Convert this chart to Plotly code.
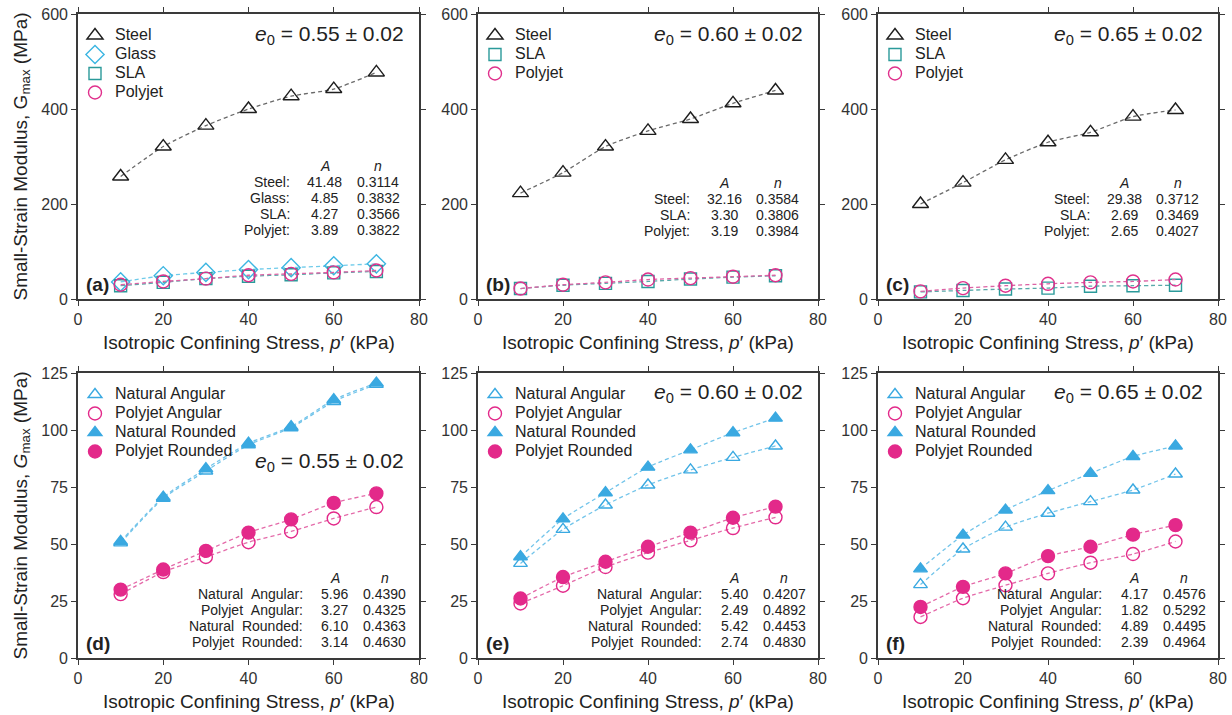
import plotly.graph_objects as go

# ---------------- data ----------------
p_kpa = [10, 20, 30, 40, 50, 60, 70]

a_steel = [258, 321, 365, 400, 427, 442, 477]
a_glass = [36, 49, 56, 62, 66, 70, 74]
a_sla = [28, 35, 43, 48, 51, 55, 58]
a_polyjet = [30, 37, 43, 50, 53, 56, 60]

b_steel = [223, 266, 321, 354, 379, 412, 439]
b_sla = [22, 29, 33, 37, 42, 46, 49]
b_polyjet = [22, 30, 35, 41, 44, 47, 50]

c_steel = [200, 245, 293, 330, 351, 384, 398]
c_sla = [15, 18, 21, 23, 27, 28, 29]
c_polyjet = [16, 23, 28, 32, 35, 37, 41]

d_nat_ang = [50.5, 70, 82, 93.5, 101, 112.5, 120]
d_poly_ang = [28, 37.7, 44.3, 50.8, 55.5, 61.2, 66.2]
d_nat_rnd = [51.1, 70.5, 83, 94.2, 101.5, 113.3, 120.6]
d_poly_rnd = [30, 38.8, 47, 55, 60.8, 68, 72.2]

e_nat_ang = [41.5, 56.4, 67.1, 75.9, 82.5, 88, 93]
e_poly_ang = [23.9, 31.7, 39.9, 46.2, 51.6, 57, 61.7]
e_nat_rnd = [44.4, 61, 72.5, 83.7, 91.3, 98.8, 105.2]
e_poly_rnd = [26.1, 35.5, 42.2, 48.8, 55, 61.5, 66.4]

f_nat_ang = [32.2, 47.8, 57.4, 63.5, 68.6, 73.7, 80.7]
f_poly_ang = [18, 26.2, 31.9, 37.1, 41.8, 45.6, 51.1]
f_nat_rnd = [39.1, 53.9, 64.9, 73.4, 81, 88.4, 93]
f_poly_rnd = [22.4, 31.2, 37.1, 44.7, 48.8, 54.1, 58.3]

# fit-parameter tables (label, A, n)
table_a = [("Steel:", "41.48", "0.3114"), ("Glass:", "4.85", "0.3832"),
           ("SLA:", "4.27", "0.3566"), ("Polyjet:", "3.89", "0.3822")]
table_b = [("Steel:", "32.16", "0.3584"), ("SLA:", "3.30", "0.3806"),
           ("Polyjet:", "3.19", "0.3984")]
table_c = [("Steel:", "29.38", "0.3712"), ("SLA:", "2.69", "0.3469"),
           ("Polyjet:", "2.65", "0.4027")]
table_d = [("Natural  Angular:", "5.96", "0.4390"), ("Polyjet  Angular:", "3.27", "0.4325"),
           ("Natural  Rounded:", "6.10", "0.4363"), ("Polyjet  Rounded:", "3.14", "0.4630")]
table_e = [("Natural  Angular:", "5.40", "0.4207"), ("Polyjet  Angular:", "2.49", "0.4892"),
           ("Natural  Rounded:", "5.42", "0.4453"), ("Polyjet  Rounded:", "2.74", "0.4830")]
table_f = [("Natural  Angular:", "4.17", "0.4576"), ("Polyjet  Angular:", "1.82", "0.5292"),
           ("Natural  Rounded:", "4.89", "0.4495"), ("Polyjet  Rounded:", "2.39", "0.4964")]

void_ratios = ["0.55", "0.60", "0.65", "0.55", "0.60", "0.65"]
panel_letters = ["(a)", "(b)", "(c)", "(d)", "(e)", "(f)"]

# ---------------- styles ----------------
FONT = "Liberation Sans, Arial, sans-serif"
TXT = "#222222"
W, H = 1232, 715

STEEL = "#1e1e1e"
GLASS = "#3cb6e2"
SLA = "#2b9a9a"
POLY = "#e0308c"
NAT = "#3aa9e1"
PJ = "#e3298a"

LINE_C = {STEEL: "#6a6a6a", GLASS: "#6fcbea", SLA: "#58a9a9", POLY: "#dc62a4",
          NAT: "#72c4ea", PJ: "#e46aa9"}


def fx(px):
    return px / W


def fy(py):
    return 1 - py / H


fig = go.Figure()

# panel geometry in screen pixels: (left, right), (top, bottom)
cols_px = [(78, 419), (478, 818), (878, 1218)]
rows_px = [(14, 299), (373, 658)]

panels = []
for r in range(2):
    for c in range(3):
        panels.append((cols_px[c], rows_px[r]))


def lgname(text):
    return '<span style="font-size:16px">%s</span>' % text


def add_series(idx, name, yvals, symbol, color, size=13):
    ax = "" if idx == 0 else str(idx + 1)
    lg = "legend" if idx == 0 else "legend%d" % (idx + 1)
    fig.add_trace(go.Scatter(
        x=p_kpa, y=yvals, mode="lines", xaxis="x" + ax, yaxis="y" + ax,
        line=dict(color=LINE_C[color], width=1.3, dash="4px,3px", shape="spline", smoothing=0.6),
        showlegend=False, hoverinfo="skip"))
    fig.add_trace(go.Scatter(
        x=p_kpa, y=yvals, mode="markers", name=lgname(name), xaxis="x" + ax, yaxis="y" + ax,
        legend=lg,
        marker=dict(symbol=symbol, size=size, color=color,
                    line=dict(color=color, width=1.4))))


# top row
add_series(0, "Steel", a_steel, "triangle-up-open", STEEL, 14)
add_series(0, "Glass", a_glass, "diamond-open", GLASS, 14)
add_series(0, "SLA", a_sla, "square-open", SLA, 12)
add_series(0, "Polyjet", a_polyjet, "circle-open", POLY, 13)

add_series(1, "Steel", b_steel, "triangle-up-open", STEEL, 14)
add_series(1, "SLA", b_sla, "square-open", SLA, 12)
add_series(1, "Polyjet", b_polyjet, "circle-open", POLY, 13)

add_series(2, "Steel", c_steel, "triangle-up-open", STEEL, 14)
add_series(2, "SLA", c_sla, "square-open", SLA, 12)
add_series(2, "Polyjet", c_polyjet, "circle-open", POLY, 13)

# bottom row
for idx, (na, pa, nr, pr) in zip([3, 4, 5], [
        (d_nat_ang, d_poly_ang, d_nat_rnd, d_poly_rnd),
        (e_nat_ang, e_poly_ang, e_nat_rnd, e_poly_rnd),
        (f_nat_ang, f_poly_ang, f_nat_rnd, f_poly_rnd)]):
    add_series(idx, "Natural Angular", na, "triangle-up-open", NAT, 12)
    add_series(idx, "Polyjet Angular", pa, "circle-open", PJ, 13)
    add_series(idx, "Natural Rounded", nr, "triangle-up", NAT, 12)
    add_series(idx, "Polyjet Rounded", pr, "circle", PJ, 13)

layout = dict(
    width=W, height=H, margin=dict(l=0, r=0, t=0, b=0, autoexpand=False),
    paper_bgcolor="white", plot_bgcolor="white",
    font=dict(family=FONT, color=TXT, size=16),
)

annotations = []
for i, ((x0, x1), (y0, y1)) in enumerate(panels):
    ax = "" if i == 0 else str(i + 1)
    top = i < 3
    xkey = "xaxis" + ax
    ykey = "yaxis" + ax
    layout[xkey] = dict(
        domain=[fx(x0), fx(x1)], anchor="y" + ax, range=[0, 80], dtick=20,
        ticks="outside", ticklen=5, tickwidth=1.3, tickcolor="#3a3a3a",
        showline=True, linecolor="#3a3a3a", linewidth=1.6, mirror="ticks",
        showgrid=False, zeroline=False, tickfont=dict(size=16, color="#333"),
        automargin=False, ticklabeloverflow="allow",
    )
    layout[ykey] = dict(
        domain=[fy(y1), fy(y0)], anchor="x" + ax,
        range=[0, 600] if top else [0, 125], dtick=200 if top else 25,
        ticks="outside", ticklen=5, tickwidth=1.3, tickcolor="#3a3a3a",
        showline=True, linecolor="#3a3a3a", linewidth=1.6, mirror="ticks",
        showgrid=False, zeroline=False, tickfont=dict(size=16, color="#333"),
        automargin=False, ticklabeloverflow="allow",
    )

    xr = "x%s domain" % ax
    yr = "y%s domain" % ax
    # y-axis title (left column only)
    if i in (0, 3):
        gtxt = "G" if i == 0 else "<i>G</i>"
        annotations.append(dict(
            text="Small-Strain Modulus, %s<sub>max</sub> (MPa)" % gtxt,
            xref=xr, yref=yr, x=0, y=0.5, xshift=-(x0 - 21), textangle=-90,
            xanchor="center", yanchor="middle", showarrow=False,
            font=dict(size=19, color=TXT)))
    # x-axis title
    annotations.append(dict(
        text="Isotropic Confining Stress, <i>p</i>′ (kPa)",
        xref=xr, yref=yr, x=0.5, y=0, yshift=-43, xanchor="center", yanchor="middle",
        showarrow=False, font=dict(size=19, color=TXT)))
    # void ratio label
    ey = 0.926 if top else (0.688 if i == 3 else 0.93)
    annotations.append(dict(
        text="<i>e</i><sub>0</sub> = %s ± 0.02" % void_ratios[i],
        xref=xr, yref=yr, x=0.962, y=ey, xanchor="right", yanchor="middle",
        showarrow=False, font=dict(size=21, color=TXT)))
    # panel letter
    annotations.append(dict(
        text="<b>%s</b>" % panel_letters[i], xref=xr, yref=yr,
        x=0.018, y=0.05, xanchor="left", yanchor="middle",
        showarrow=False, font=dict(size=19, color=TXT)))

    # legend
    lg = "legend" if i == 0 else "legend%d" % (i + 1)
    layout[lg] = dict(
        x=fx(x0 - 3), y=fy(y0 + 7), xanchor="left", yanchor="top",
        bgcolor="rgba(0,0,0,0)", font=dict(size=12, color=TXT),
        itemwidth=30, tracegroupgap=0, traceorder="normal",
    )

# tables
tables = [table_a, table_b, table_c, table_d, table_e, table_f]
for i, tab in enumerate(tables):
    ax = "" if i == 0 else str(i + 1)
    xr = "x%s domain" % ax
    yr = "y%s domain" % ax
    top = i < 3
    if i == 0:
        hy = 0.467
    elif top:
        hy = 0.407
    else:
        hy = 0.281
    step = 16 / 285
    if top:
        lx, axp, nxp = 0.628, 0.724, 0.881
    else:
        lx, axp, nxp = 0.666, 0.753, 0.900
    fs = 14
    annotations.append(dict(text="<i>A</i>", xref=xr, yref=yr, x=axp, y=hy,
                            xanchor="center", yanchor="middle", showarrow=False,
                            font=dict(size=fs, color=TXT)))
    annotations.append(dict(text="<i>n</i>", xref=xr, yref=yr, x=nxp, y=hy,
                            xanchor="center", yanchor="middle", showarrow=False,
                            font=dict(size=fs, color=TXT)))
    for k, (lab, A, n) in enumerate(tab):
        yy = hy - (k + 1) * step
        annotations.append(dict(text=lab.replace("  ", "&nbsp;&nbsp;"), xref=xr, yref=yr, x=lx, y=yy,
                                xanchor="right", yanchor="middle", showarrow=False,
                                font=dict(size=fs, color=TXT)))
        annotations.append(dict(text=A, xref=xr, yref=yr, x=axp, y=yy,
                                xanchor="center", yanchor="middle", showarrow=False,
                                font=dict(size=fs, color=TXT)))
        annotations.append(dict(text=n, xref=xr, yref=yr, x=nxp, y=yy,
                                xanchor="center", yanchor="middle", showarrow=False,
                                font=dict(size=fs, color=TXT)))

layout["annotations"] = annotations
fig.update_layout(**layout)
fig.write_html("out.html", config={"displayModeBar": False},
               post_script="document.body.style.margin='0px';")
